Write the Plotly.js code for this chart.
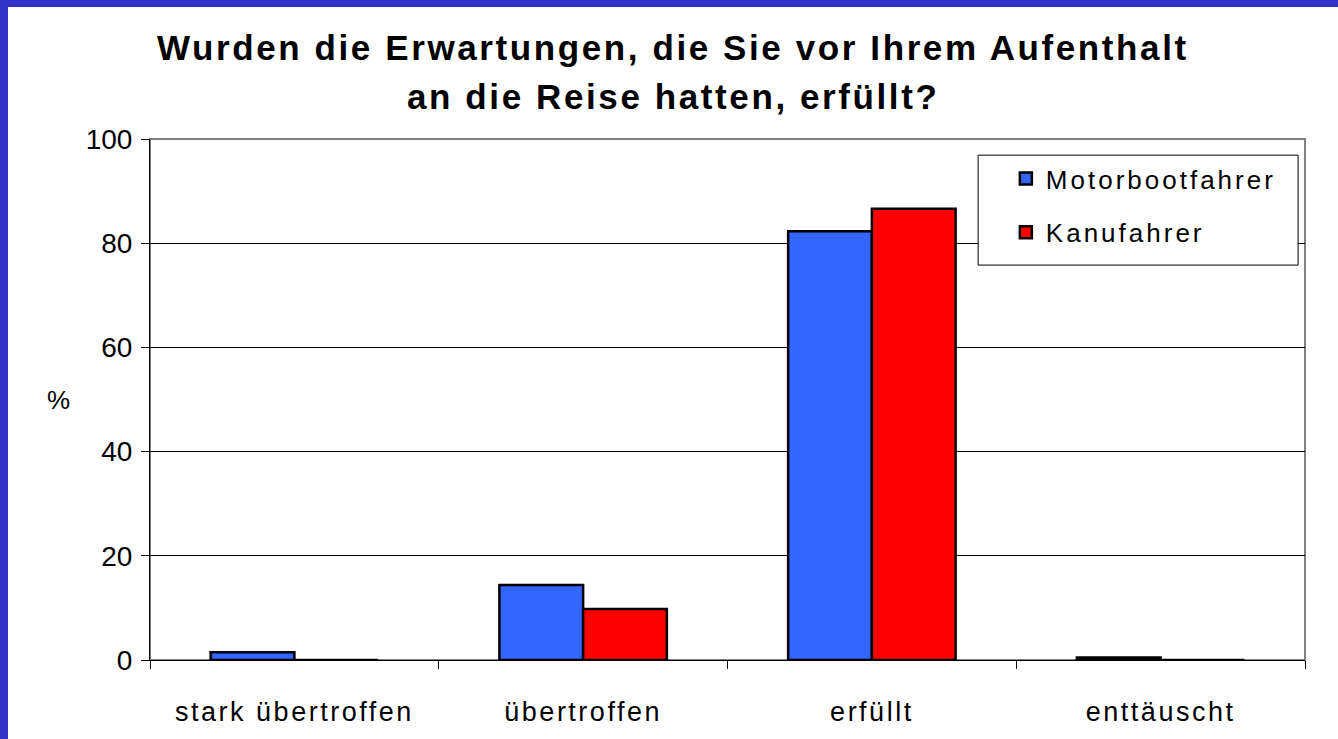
<!DOCTYPE html>
<html>
<head>
<meta charset="utf-8">
<script src="https://cdn.plot.ly/plotly-3.0.1.min.js"></script>
<style>
  html, body { margin: 0; padding: 0; background: #3333cc; overflow: hidden; }
  #chart { position: absolute; left: 8px; top: 7px; width: 1330px; height: 732px; background: #fff; }
  /* Excel-artige Laufweite */
  .xtick text { letter-spacing: 2.5px; }
  .legendtext { letter-spacing: 3px; }
  .annotation-text { letter-spacing: 2.6px; }
</style>
</head>
<body>
<div id="chart"></div>
<script>
// Kategorien und Werte (in %)
const categories = ["stark übertroffen", "übertroffen", "erfüllt", "enttäuscht"];
const motorboot = [1.5, 14.4, 82.3, 0.5];
const kanu = [0, 9.8, 86.6, 0];
const yTicks = [0, 20, 40, 60, 80, 100];
const titleLines = ["Wurden die Erwartungen, die Sie vor Ihrem Aufenthalt", "an die Reise hatten, erfüllt?"];

const font = "Arial, 'Liberation Sans', sans-serif";

const traces = [
  {
    type: 'bar', name: 'Motorbootfahrer', x: categories, y: motorboot,
    legendgroup: 'a',
    marker: { color: '#3366ff', line: { color: '#000', width: 2.5 } }
  },
  {
    type: 'bar', name: 'Kanufahrer', x: categories, y: kanu,
    legendgroup: 'b',
    marker: { color: '#ff0000', line: { color: '#000', width: 2.5 } }
  }
];

const layout = {
  width: 1330, height: 732,
  margin: { l: 142, r: 33, t: 132, b: 79 },
  paper_bgcolor: '#fff', plot_bgcolor: '#fff',
  font: { family: font, size: 26, color: '#000' },
  barmode: 'group', bargap: 0.42, bargroupgap: 0,
  xaxis: {
    type: 'category', tickson: 'boundaries',
    ticks: 'outside', ticklen: 8, tickcolor: '#000',
    showline: true, linecolor: '#000', linewidth: 1,
    showgrid: false, zeroline: false,
    tickfont: { size: 27 }, ticklabelstandoff: 28
  },
  yaxis: {
    range: [0, 100], tickvals: yTicks,
    ticks: 'outside', ticklen: 8, tickcolor: '#000',
    showline: true, linecolor: '#000', linewidth: 1,
    showgrid: true, gridcolor: '#000', gridwidth: 1,
    zeroline: false, tickfont: { size: 28 }, ticklabelstandoff: 3
  },
  legend: {
    x: 0.741, xanchor: 'left', y: 0.969, yanchor: 'top',
    bgcolor: 'rgba(0,0,0,0)', borderwidth: 0,
    font: { size: 26 }, traceorder: 'grouped', tracegroupgap: 17
  },
  annotations: [
    { text: '<b>' + titleLines[0] + '</b>', xref: 'paper', yref: 'paper', x: 0.4528, y: 1.1747,
      yanchor: 'middle', showarrow: false, font: { size: 35 } },
    { text: '<b>' + titleLines[1] + '</b>', xref: 'paper', yref: 'paper', x: 0.4528, y: 1.0825,
      yanchor: 'middle', showarrow: false, font: { size: 35 } },
    { text: '%', xref: 'paper', yref: 'paper', x: -0.091, y: 0.5,
      showarrow: false, font: { size: 26 } }
  ],
  shapes: [
    { type: 'rect', xref: 'paper', yref: 'paper', x0: 0, x1: 1, y0: 0, y1: 1,
      line: { color: '#808080', width: 2 }, layer: 'below' },
    // Legendenrahmen
    { type: 'rect', xref: 'paper', yref: 'paper', x0: 0.717, x1: 0.994, y0: 0.758, y1: 0.969,
      fillcolor: '#fff', line: { color: '#000', width: 1 }, layer: 'above' }
  ]
};

Plotly.newPlot('chart', traces, layout, { displayModeBar: false, staticPlot: true });
</script>
</body>
</html>
